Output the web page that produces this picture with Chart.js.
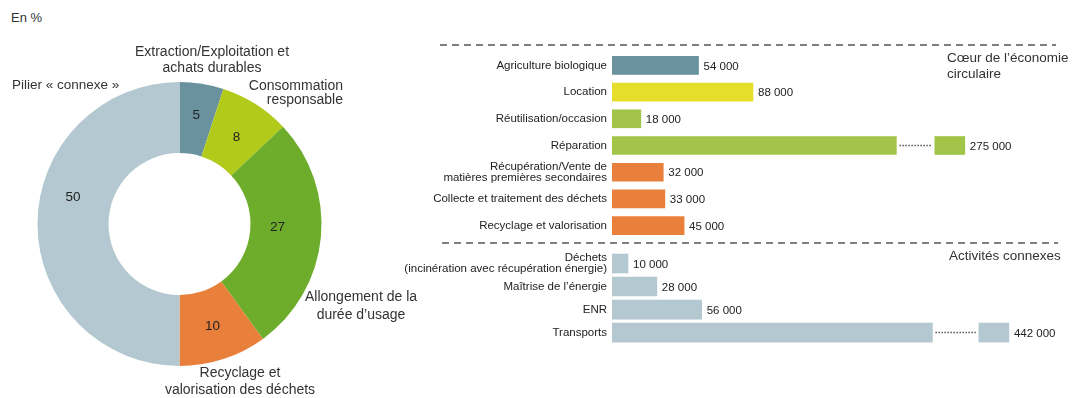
<!DOCTYPE html>
<html lang="fr">
<head>
<meta charset="utf-8">
<title>Emplois de l'économie circulaire</title>
<script src="https://cdn.jsdelivr.net/npm/chart.js@4.4.1/dist/chart.umd.min.js"></script>
<style>
  html, body { margin: 0; padding: 0; background: #fff; }
  #wrap { position: relative; width: 1075px; height: 398px; overflow: hidden; }
  .box { position: absolute; }
  #unit { position: absolute; left: 11px; top: 10px; font: 13px 'Liberation Sans', Arial, sans-serif; color: #333; }
</style>
</head>
<body>
<div id="wrap">
  <div id="unit">En %</div>
  <div class="box" style="left:0;top:0;width:430px;height:398px"><canvas id="pillars"></canvas></div>
  <div class="box" style="left:380px;top:40px;width:695px;height:210px"><canvas id="core"></canvas></div>
  <div class="box" style="left:380px;top:238px;width:695px;height:122px"><canvas id="related"></canvas></div>
</div>
<script>
// ---- data ----
const pillarLabels = [
    ['Extraction/Exploitation et', 'achats durables'],
    ['Consommation', 'responsable'],
    ['Allongement de la', 'durée d\u2019usage'],
    ['Recyclage et', 'valorisation des déchets'],
    ['Pilier « connexe »']
];
const pillarValues = [5, 8, 27, 10, 50];
const pillarColors = ['#6a919e', '#b2ca1a', '#6dad2b', '#e8803c', '#b3c8d0'];

const coreLabels = [
    'Agriculture biologique',
    'Location',
    'Réutilisation/occasion',
    'Réparation',
    ['Récupération/Vente de', 'matières premières secondaires'],
    'Collecte et traitement des déchets',
    'Recyclage et valorisation'
];
const coreValues = [54000, 88000, 18000, 275000, 32000, 33000, 45000];
const coreColors = ['#6a919e', '#e5df2b', '#a2c449', '#a2c449', '#e8803c', '#e8803c', '#e8803c'];
// [where the bar is cut, where the stub resumes]
const coreBreaks = [null, null, null, [177500, 201500], null, null, null];

const relatedLabels = [
    ['Déchets', '(incinération avec récupération énergie)'],
    'Maîtrise de l\u2019énergie',
    'ENR',
    'Transports'
];
const relatedValues = [10000, 28000, 56000, 442000];
const relatedColors = ['#b3c8d0', '#b3c8d0', '#b3c8d0', '#b3c8d0'];
const relatedBreaks = [null, null, null, [200000, 229000]];

const axisMax = 289000;
const stubLength = 18750;

const FONT = "'Liberation Sans', Arial, sans-serif";

function thousands(v) {
    return String(v).replace(/\B(?=(\d{3})+(?!\d))/g, ' ');
}

// ---- doughnut ----
const pillarSpots = [
    { x: 212, y: [52, 68], align: 'center', size: 14 },
    { x: 343, y: [86, 100], align: 'right', size: 14 },
    { x: 361, y: [297, 315], align: 'center', size: 14 },
    { x: 240, y: [373, 390], align: 'center', size: 14 },
    { x: 12, y: [85], align: 'left', size: 13.5 }
];
const valueNudge = [[0, -4], [0, 3], [-8, -7], [0, 1], [0, -27]];

const pillarText = {
    id: 'pillarText',
    afterDatasetsDraw(chart) {
        const ctx = chart.ctx;
        const arcs = chart.getDatasetMeta(0).data;
        ctx.save();
        ctx.fillStyle = '#222';
        ctx.font = '13.5px ' + FONT;
        ctx.textAlign = 'center';
        ctx.textBaseline = 'middle';
        arcs.forEach((arc, i) => {
            const p = arc.tooltipPosition();
            ctx.fillText(pillarValues[i], p.x + valueNudge[i][0], p.y + valueNudge[i][1]);
        });
        ctx.fillStyle = '#333';
        pillarLabels.forEach((lines, i) => {
            const s = pillarSpots[i];
            ctx.font = s.size + 'px ' + FONT;
            ctx.textAlign = s.align;
            lines.forEach((t, k) => ctx.fillText(t, s.x, s.y[k]));
        });
        ctx.restore();
    }
};

new Chart(document.getElementById('pillars'), {
    type: 'doughnut',
    data: {
        labels: pillarLabels.map(l => l.join(' ')),
        datasets: [{ data: pillarValues, backgroundColor: pillarColors, borderWidth: 0 }]
    },
    options: {
        responsive: true,
        maintainAspectRatio: false,
        animation: false,
        events: [],
        cutout: '50%',
        layout: { padding: { left: 37, top: 82, right: 108, bottom: 32 } },
        plugins: { legend: { display: false }, tooltip: { enabled: false } }
    },
    plugins: [pillarText]
});

// ---- horizontal bars ----
const barExtras = {
    id: 'barExtras',
    afterDatasetsDraw(chart, args, opts) {
        const ctx = chart.ctx;
        const body = chart.getDatasetMeta(0).data;
        const stub = chart.getDatasetMeta(1).data;
        ctx.save();

        // dotted link across each cut bar
        ctx.strokeStyle = '#555';
        ctx.lineWidth = 1.5;
        ctx.setLineDash([1.5, 1.5]);
        opts.breaks.forEach((b, i) => {
            if (!b) return;
            ctx.beginPath();
            ctx.moveTo(body[i].x + 3, body[i].y);
            ctx.lineTo(stub[i].base - 3, body[i].y);
            ctx.stroke();
        });

        // value labels
        ctx.fillStyle = '#222';
        ctx.font = '11.5px ' + FONT;
        ctx.textAlign = 'left';
        ctx.textBaseline = 'middle';
        opts.values.forEach((v, i) => {
            const el = opts.breaks[i] ? stub[i] : body[i];
            ctx.fillText(thousands(v), el.x + 5, el.y + 1);
        });

        // dashed separator and group title
        ctx.strokeStyle = '#555';
        ctx.lineWidth = 1.4;
        ctx.setLineDash([7, 5]);
        ctx.beginPath();
        ctx.moveTo(opts.rule[0], opts.rule[2]);
        ctx.lineTo(opts.rule[1], opts.rule[2]);
        ctx.stroke();

        ctx.fillStyle = '#333';
        ctx.font = '13.5px ' + FONT;
        opts.title.forEach((t, k) => ctx.fillText(t, opts.titleX, opts.titleY + k * 16));
        ctx.restore();
    }
};

function barChart(id, labels, values, colors, breaks, thickness, padding, extras) {
    return new Chart(document.getElementById(id), {
        type: 'bar',
        data: {
            labels: labels,
            datasets: [
                {
                    data: values.map((v, i) => [0, breaks[i] ? breaks[i][0] : v]),
                    backgroundColor: colors,
                    barThickness: thickness,
                    grouped: false
                },
                {
                    data: values.map((v, i) => breaks[i] ? [breaks[i][1], breaks[i][1] + stubLength] : null),
                    backgroundColor: colors,
                    barThickness: thickness,
                    grouped: false
                }
            ]
        },
        options: {
            indexAxis: 'y',
            responsive: true,
            maintainAspectRatio: false,
            animation: false,
            events: [],
            layout: { padding: padding },
            scales: {
                x: { display: false, min: 0, max: axisMax },
                y: {
                    grid: { display: false, drawTicks: false },
                    border: { display: false },
                    ticks: {
                        padding: 5,
                        color: '#222',
                        autoSkip: false,
                        font: { family: FONT, size: 11.5, lineHeight: 0.95 }
                    },
                    afterFit: function (scale) { scale.width = 232; }
                }
            },
            plugins: {
                legend: { display: false },
                tooltip: { enabled: false },
                barExtras: Object.assign({ values: values, breaks: breaks }, extras)
            }
        },
        plugins: [barExtras]
    });
}

barChart('core', coreLabels, coreValues, coreColors, coreBreaks, 18,
    { top: 12, bottom: 11, left: 0, right: 0 },
    { rule: [60, 676, 5], title: ['Cœur de l\u2019économie', 'circulaire'], titleX: 567, titleY: 18 });

barChart('related', relatedLabels, relatedValues, relatedColors, relatedBreaks, 19,
    { top: 14, bottom: 9, left: 0, right: 0 },
    { rule: [62, 678, 5], title: ['Activités connexes'], titleX: 569, titleY: 18 });
</script>
</body>
</html>
